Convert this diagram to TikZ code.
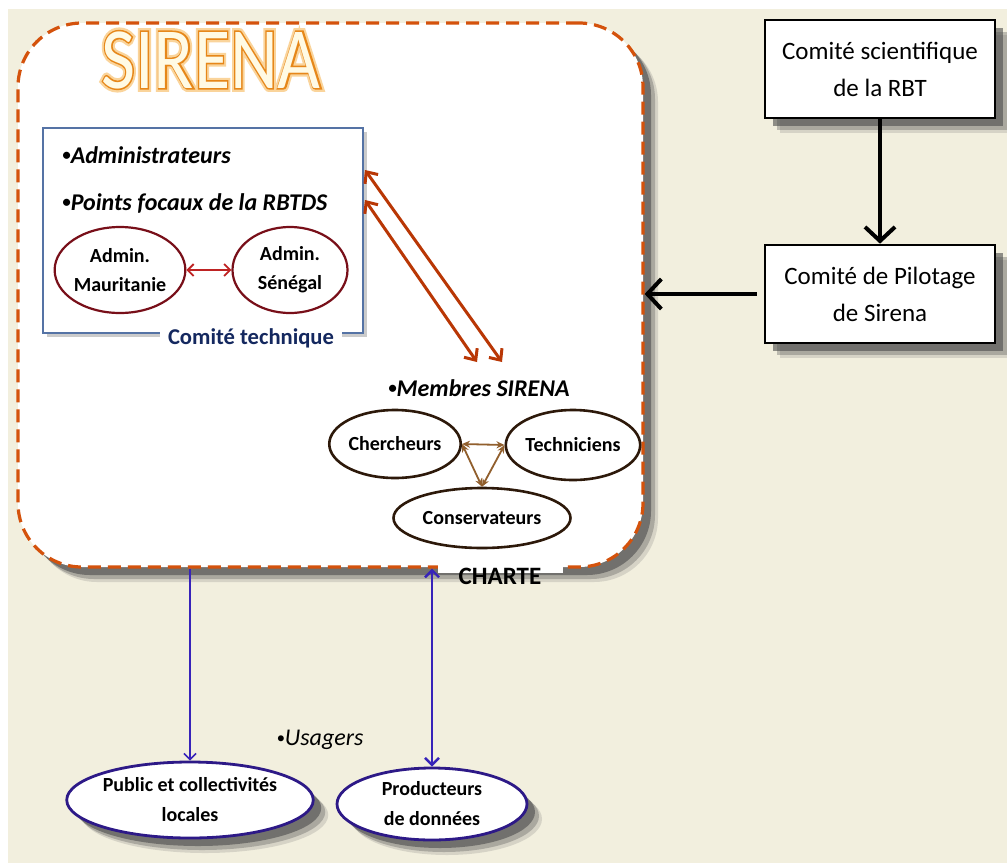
\documentclass[tikz,border=0pt]{standalone}
\usepackage{fontspec}
\setmainfont{Carlito}
\newfontfamily\titrehalofont[FakeBold=9]{Carlito}
\newfontfamily\titrebordfont[FakeBold=3.5]{Carlito}
\usetikzlibrary{shapes.geometric,shadows,arrows.meta}
\definecolor{fondbeige}{RGB}{242,239,222}
\definecolor{tiretorange}{RGB}{212,82,12}
\definecolor{bleutech}{RGB}{85,115,165}
\definecolor{bleufonce}{RGB}{20,40,95}
\definecolor{rougeadm}{RGB}{120,15,25}
\definecolor{rougefleche}{RGB}{190,35,35}
\definecolor{rougeliaison}{RGB}{185,55,5}
\definecolor{brunfleche}{RGB}{145,95,45}
\definecolor{brunfonce}{RGB}{45,25,10}
\definecolor{bleuusage}{RGB}{55,35,185}
\definecolor{violetusage}{RGB}{45,25,135}
\definecolor{titreorange}{RGB}{230,135,25}
\definecolor{titrehalo}{RGB}{250,212,155}
\definecolor{titrefond}{RGB}{255,250,228}
\newcommand{\pucette}{\raisebox{0.1em}{\scalebox{0.7}{•}}}
\tikzset{
    every node/.style={inner sep=0pt, align=center}
}
\tikzset{
    ombre/.style={
    	drop shadow={shadow xshift=7.5pt, shadow yshift=-7.5pt, fill=black!60, opacity=0.2},
    	drop shadow={shadow xshift=6pt, shadow yshift=-6pt, fill=black!65, opacity=0.35},
    	drop shadow={shadow xshift=4pt, shadow yshift=-4pt, fill=black!70, opacity=0.6}},
    ombreclaire/.style={drop shadow={shadow xshift=2pt, shadow yshift=-2pt,
    	fill=black!40, opacity=0.5}}
}
\tikzset{
    cadresirena/.style={rectangle, rounded corners=32pt, draw=tiretorange,
    	dash pattern=on 6.5pt off 3.5pt, line width=1.6pt, fill=white,
    	ombre, minimum width=312.5pt, minimum height=272pt},
    cadretech/.style={rectangle, draw=bleutech, line width=1pt, fill=white,
    	ombreclaire, minimum width=160pt, minimum height=102.5pt},
    cadrecomite/.style={rectangle, draw=black, line width=1.3pt, fill=white,
    	ombre, minimum width=115pt, minimum height=49pt,
    	font=\fontsize{12.5}{18.5}\selectfont},
    elladmin/.style={ellipse, draw=rougeadm, line width=1.1pt, fill=white,
    	font=\bfseries\fontsize{10}{14.5}\selectfont},
    ellmembre/.style={ellipse, draw=brunfonce, line width=1.3pt, fill=white,
    	font=\bfseries\fontsize{10}{14.5}\selectfont},
    ellusager/.style={ellipse, draw=violetusage, line width=1.4pt, fill=white,
    	ombre, font=\bfseries\fontsize{10}{15}\selectfont},
    puce/.style={font=\bfseries\itshape\fontsize{12}{14}\selectfont},
    titre/.style={font=\fontsize{37}{37}\selectfont}
}
\tikzset{
    flechenoire/.style={-{Straight Barb[length=7pt, width=15pt, line width=2pt]},
    	line width=2.2pt},
    liaison/.style={{Straight Barb[length=4.5pt, width=8pt]}-{Straight Barb[length=4.5pt, width=8pt]},
    	draw=rougeliaison, line width=1.5pt},
    lienadmin/.style={{Straight Barb[length=3pt, width=6pt]}-{Straight Barb[length=3pt, width=6pt]},
    	draw=rougefleche, line width=0.9pt},
    lienmembre/.style={{Stealth[length=4pt, width=3.5pt]}-{Stealth[length=4pt, width=3.5pt]},
    	draw=brunfleche, line width=0.9pt},
    lienusager/.style={draw=bleuusage, line width=0.8pt}
}

\begin{document}
\begin{tikzpicture}[x=0.5pt, y=-0.5pt]
	\useasboundingbox (0,0) rectangle (1007,863);
	\fill[white] (0,0) rectangle (1007,863);
	\fill[fondbeige] (8,9) rectangle (1007,863);

	% cadre SIRENA
	\node (sirena) [cadresirena] at (330.5,295) {};
	\node (titrehalo) [titre, text=titrehalo] at (211,60)
		{\scalebox{1}[1.18]{\titrehalofont SIRENA}};
	\node (titrebord) [titre, text=titreorange] at (211,60)
		{\scalebox{1}[1.18]{\titrebordfont SIRENA}};
	\node (titre) [titre, text=titrefond] at (211,60)
		{\scalebox{1}[1.18]{SIRENA}};

	% comite technique
	\node (tech) [cadretech] at (203,230.5) {};
	\node (admin) [puce, anchor=west] at (62,155) {\pucette Administrateurs};
	\node (points) [puce, anchor=west] at (62,203) {\pucette Points focaux de la RBTDS};
	\node (mauri) [elladmin, minimum width=62pt, minimum height=43pt] at (120,270) {Admin.\\Mauritanie};
	\node (sene) [elladmin, minimum width=57.5pt, minimum height=43pt] at (290,270) {Admin.\\Sénégal};
	\node (techlab) [fill=white, inner xsep=4pt, inner ysep=1pt, text=bleufonce,
		font=\bfseries\fontsize{11.3}{13}\selectfont] at (251,338) {Comité technique};
	\draw[lienadmin] (mauri.east) -- (sene.west);

	% membres SIRENA
	\node (membres) [puce] at (479,388) {\pucette Membres SIRENA};
	\node (cherch) [ellmembre, minimum width=58pt, minimum height=34pt] at (395,444) {Chercheurs};
	\node (techn) [ellmembre, minimum width=61.5pt, minimum height=35pt] at (573,445) {Techniciens};
	\node (conserv) [ellmembre, minimum width=88.5pt, minimum height=30pt] at (482,518) {Conservateurs};
	\draw[lienmembre] (cherch.east) -- (techn.west);
	\draw[lienmembre] (cherch.east) -- (conserv.north);
	\draw[lienmembre] (techn.west) -- (conserv.north);

	\coordinate (t1) at (365,170); \coordinate (t2) at (365,200);
	\coordinate (m1) at (502,362); \coordinate (m2) at (477,362);
	\draw[liaison] (t1) -- (m1);
	\draw[liaison] (t2) -- (m2);

	\fill[white] (438,561) rectangle (563,573);
	\node (charte) [font=\bfseries\fontsize{12.5}{14}\selectfont] at (500,576) {CHARTE};

	% comites exterieurs
	\node (sci) [cadrecomite] at (880,69) {Comité scientifique\\de la RBT};
	\node (pilot) [cadrecomite] at (880,294) {Comité de Pilotage\\de Sirena};
	\draw[flechenoire] (sci.south) -- (pilot.north);
	\draw[flechenoire, shorten <=3.5pt] (pilot.west) -- (pilot.west -| sirena.east);

	% usagers
	\node (usagers) [font=\itshape\fontsize{12}{14}\selectfont] at (320,740) {\pucette Usagers};
	\node (pub) [ellusager, minimum width=117pt, minimum height=38pt] at (190,800) {Public et collectivités\\locales};
	\node (prod) [ellusager, minimum width=95pt, minimum height=36pt] at (432,804) {Producteurs\\de données};
	\draw[lienusager, -{Straight Barb[length=3pt, width=6pt]}] (pub.north |- sirena.south) -- (pub.north);
	\draw[lienusager, line width=1.2pt, {Straight Barb[length=3.5pt, width=7pt]}-{Straight Barb[length=3.5pt, width=7pt]}]
		(prod.north |- sirena.south) -- (prod.north);
\end{tikzpicture}
\end{document}
